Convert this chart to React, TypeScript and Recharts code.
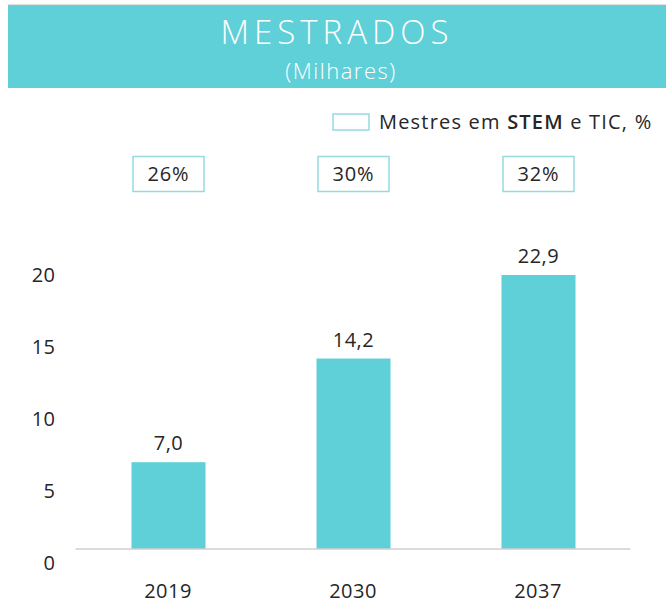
import React from 'react';
import { BarChart, Bar, XAxis, YAxis, LabelList, Legend, ReferenceLine } from 'recharts';

const years = ['2019', '2030', '2037'];
const masters = [7.0, 14.2, 22.9];
const stemShare = [26, 30, 32];
const yTicks = [0, 5, 10, 15, 20];

const data = years.map((year, i) => ({ year, value: masters[i], pct: stemShare[i] }));

const TEAL = '#5FCFD8';
const BOX = '#95DADF';
const TEXT = '#262626';
const FONT = '"Open Sans", Lato, sans-serif';
const PLOT_TOP = 275;
const TRIM = 14;

const fmt = (v: number) => v.toFixed(1).replace('.', ',');

const TrimmedBar = (props: any) => {
  const { x, y, width, height } = props;
  const top = Math.max(y, PLOT_TOP);
  const bottom = y + height - TRIM;
  return <rect x={x} y={top} width={width} height={Math.max(0, bottom - top)} fill={TEAL} />;
};

const ValueLabel = (props: any) => {
  const { x, y, width, value } = props;
  const top = Math.max(y, PLOT_TOP);
  return (
    <text x={x + width / 2} y={top - 12} textAnchor="middle" fill={TEXT} fontSize={20} fontFamily={FONT} letterSpacing={0.5}>
      {fmt(value)}
    </text>
  );
};

const PctBox = (props: any) => {
  const { x, width, value } = props;
  const cx = x + width / 2;
  const cy = 174;
  return (
    <g>
      <rect x={cx - 35.5} y={cy - 17.5} width={71} height={35} fill="#fff" stroke={BOX} strokeWidth={1.5} />
      <text x={cx} y={cy + 7} textAnchor="middle" fill={TEXT} fontSize={20} fontFamily={FONT} letterSpacing={0.8}>
        {value}%
      </text>
    </g>
  );
};

const LegendContent = () => (
  <div style={{ display: 'flex', alignItems: 'center', fontFamily: FONT, fontSize: 20, color: TEXT, whiteSpace: 'nowrap', letterSpacing: 1.2 }}>
    <svg width={38} height={18} style={{ marginRight: 9 }}>
      <rect x={1} y={1} width={36} height={16} fill="#fff" stroke={BOX} strokeWidth={1.5} />
    </svg>
    <span>
      Mestres em <b style={{ fontWeight: 600 }}>STEM</b> e TIC, %
    </span>
  </div>
);

export default function App() {
  return (
    <div style={{ position: 'absolute', left: 0, top: 0, width: 666, height: 603, background: '#fff', overflow: 'hidden' }}>
      <div style={{ position: 'absolute', left: 8, top: 4, width: 658, height: 1, background: '#e2e2e2' }} />
      <div
        style={{
          position: 'absolute', left: 8, top: 5, width: 658, height: 83, background: TEAL,
          color: '#fff', textAlign: 'center', fontFamily: FONT,
        }}
      >
        <div style={{ position: 'absolute', left: 0, right: 0, top: 10, fontSize: 33, fontWeight: 300, letterSpacing: 5, lineHeight: '34px' }}>
          MESTRADOS
        </div>
        <div style={{ position: 'absolute', left: 8, right: 0, top: 53, fontSize: 22, fontWeight: 300, letterSpacing: 1.5, lineHeight: '24px' }}>
          (Milhares)
        </div>
      </div>
      <div style={{ position: 'absolute', left: 0, top: 0 }}>
        <BarChart width={666} height={603} data={data} margin={{ top: PLOT_TOP, right: 35.5, left: 15.5, bottom: 0 }}>
          <XAxis
            dataKey="year"
            axisLine={false}
            tickLine={false}
            height={40}
            tickMargin={15}
            tick={{ fill: TEXT, fontSize: 20, fontFamily: FONT, letterSpacing: 0.5 }}
          />
          <YAxis
            width={60}
            domain={[0, 20]}
            ticks={yTicks}
            allowDataOverflow
            axisLine={false}
            tickLine={false}
            tickMargin={14}
            tick={{ fill: TEXT, fontSize: 20, fontFamily: FONT, letterSpacing: 0.5 }}
          />
          <ReferenceLine
            y={0}
            shape={(p: any) => (
              <line x1={p.x1} y1={p.y1 - TRIM} x2={p.x2} y2={p.y2 - TRIM} stroke="#cfcfcf" strokeWidth={1.5} />
            )}
          />
          <Bar dataKey="value" name="Mestres em STEM e TIC, %" barSize={74} shape={TrimmedBar} isAnimationActive={false}>
            <LabelList dataKey="value" content={ValueLabel} />
            <LabelList dataKey="pct" content={PctBox} />
          </Bar>
          <Legend
            layout="horizontal"
            verticalAlign="middle"
            align="center"
            content={LegendContent}
            wrapperStyle={{ position: 'absolute', top: 108, left: 332, width: 334, height: 22 }}
          />
        </BarChart>
      </div>
    </div>
  );
}
